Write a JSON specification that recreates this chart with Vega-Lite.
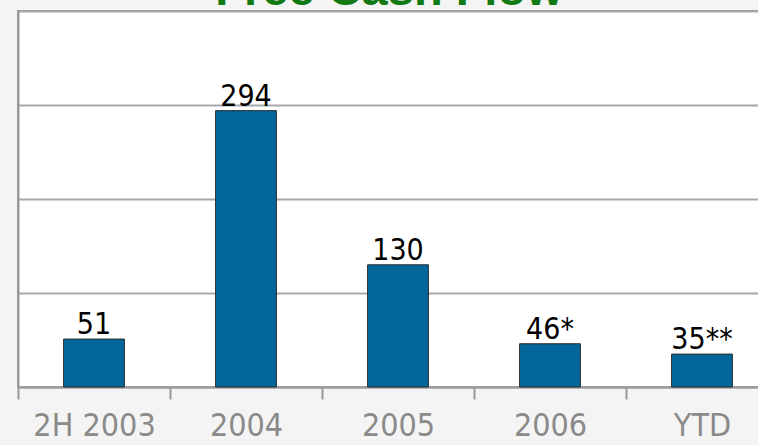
{
  "$schema": "https://vega.github.io/schema/vega-lite/v6.json",
  "width": 760,
  "height": 376,
  "autosize": {"type": "none"},
  "padding": {"left": 18, "top": 11, "right": 0, "bottom": 58},
  "background": "#f4f4f4",
  "title": {
    "text": "Free Cash Flow",
    "color": "#127a12",
    "fontSize": 47,
    "font": "Liberation Sans",
    "fontWeight": "bold",
    "anchor": "middle",
    "baseline": "alphabetic",
    "offset": 0,
    "dy": 41,
    "dx": -9
  },
  "config": {
    "view": {"fill": "white", "stroke": "#9a9a9a", "strokeWidth": 2}
  },
  "data": {
    "values": [
      {"period": "2H 2003", "value": 51, "label": "51"},
      {"period": "2004", "value": 294, "label": "294"},
      {"period": "2005", "value": 130, "label": "130"},
      {"period": "2006", "value": 46, "label": "46*"},
      {"period": "YTD", "value": 35, "label": "35**"}
    ]
  },
  "encoding": {
    "x": {
      "field": "period",
      "type": "nominal",
      "sort": null,
      "scale": {"paddingInner": 0.6, "paddingOuter": 0.3},
      "axis": {
        "title": null,
        "labelAngle": 0,
        "labelFont": "DejaVu Sans Condensed",
        "labelFontSize": 32,
        "labelColor": "#8a8a8a",
        "labelPadding": 11,
        "tickOffset": -76,
        "labelOffset": 76,
        "tickSize": 12,
        "tickColor": "#9a9a9a",
        "tickWidth": 2,
        "domainColor": "#9a9a9a",
        "domainWidth": 2,
        "grid": false
      }
    },
    "y": {
      "field": "value",
      "type": "quantitative",
      "scale": {"domain": [0, 400], "nice": false},
      "axis": {
        "title": null,
        "labels": false,
        "ticks": false,
        "values": [0, 100, 200, 300, 400],
        "grid": true,
        "gridColor": "#a8a8a8",
        "gridWidth": 2,
        "domainColor": "#9a9a9a",
        "domainWidth": 2
      }
    }
  },
  "layer": [
    {
      "mark": {"type": "bar", "color": "#03669b", "stroke": "#2a2a2a", "strokeWidth": 1}
    },
    {
      "mark": {
        "type": "text",
        "baseline": "alphabetic",
        "dy": -5,
        "font": "DejaVu Sans Condensed",
        "fontSize": 30,
        "color": "black"
      },
      "encoding": {"text": {"field": "label"}}
    }
  ]
}
